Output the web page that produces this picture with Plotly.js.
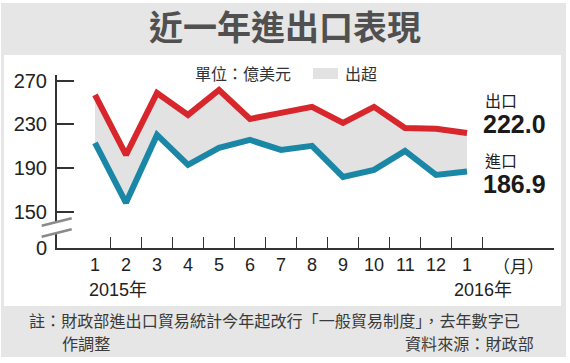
<!DOCTYPE html>
<html>
<head>
<meta charset="utf-8">
<script src="https://cdn.plot.ly/plotly-3.0.1.min.js"></script>
<style>
  html, body { margin: 0; padding: 0; background: #fff; }
  #frame { position: relative; width: 570px; height: 363px; background: #fff; overflow: hidden; }
  #outer { position: absolute; left: 1px; top: 3px; width: 565px; height: 354px; background: #e6e6e6; }
  #panel { position: absolute; left: 4px; top: 55px; width: 557px; height: 251px; background: #fff; }
  #chart { position: absolute; left: 0; top: 0; width: 570px; height: 363px; }
</style>
</head>
<body>
<div id="frame">
  <div id="outer"></div>
  <div id="panel"></div>
  <div id="chart"></div>
</div>
<script>
// ---- data ----
const months = ['1', '2', '3', '4', '5', '6', '7', '8', '9', '10', '11', '12', '1'];
const exportsV = [256.9, 202.0, 258.7, 238.6, 261.5, 235.0, 240.5, 246.0, 231.3, 246.0, 226.7, 226.0, 222.0];
const importsV = [213.0, 158.1, 220.3, 192.9, 208.4, 215.7, 206.6, 210.3, 181.9, 188.3, 205.7, 183.7, 186.9];
const yTickVals = [150, 190, 230, 270];
const yearLabels = ['2015年', '2016年'];
const seriesNames = ['出口', '進口'];

// ---- layout geometry ----
const W = 570, H = 363;
const M = { l: 57, r: 16, t: 75, b: 115 };
const PW = W - M.l - M.r, PH = H - M.t - M.b;
const px = x => (x - M.l) / PW;          // pixel -> paper x
const py = y => (H - M.b - y) / PH;      // pixel -> paper y
const yBottom = 116.75, yTop = 275.2;    // broken axis: bottom stands for 0
const idx = months.map((m, i) => i);

const numFont = 'Liberation Sans, Arial, Noto Sans CJK TC, sans-serif';
const cjkFont = 'Noto Sans CJK TC, Liberation Sans, sans-serif';
const RED = '#d8262d', BLUE = '#1b87a7', FILL = '#e2e2e2';

const traces = [
  { x: idx, y: importsV, type: 'scatter', mode: 'lines', name: seriesNames[1],
    line: { color: BLUE, width: 6, shape: 'linear' }, hoverinfo: 'skip' },
  { x: idx, y: exportsV, type: 'scatter', mode: 'lines', name: seriesNames[0],
    fill: 'tonexty', fillcolor: FILL,
    line: { color: RED, width: 6, shape: 'linear' }, hoverinfo: 'skip' }
];

const boundaries = idx.map(i => i + 0.5);
const annotations = [];
months.forEach((m, i) => annotations.push({
  x: i, y: py(265), xref: 'x', yref: 'paper', text: m, showarrow: false,
  xanchor: 'center', yanchor: 'middle', font: { family: numFont, size: 18, color: '#222' }
}));
annotations.push({ x: 13.66, y: py(265), xref: 'x', yref: 'paper', text: '（月）', showarrow: false,
  xanchor: 'center', yanchor: 'middle', font: { family: cjkFont, size: 17, color: '#222' } });
annotations.push({ x: 0.74, y: py(290), xref: 'x', yref: 'paper', text: yearLabels[0], showarrow: false,
  xanchor: 'center', yanchor: 'middle', font: { family: numFont, size: 18, color: '#222' } });
annotations.push({ x: 12.5, y: py(290), xref: 'x', yref: 'paper', text: yearLabels[1], showarrow: false,
  xanchor: 'center', yanchor: 'middle', font: { family: numFont, size: 18, color: '#222' } });

const last = months.length - 1;
// end labels
annotations.push({ x: last, y: exportsV[last], xref: 'x', yref: 'y', xshift: 16, yshift: 33,
  text: seriesNames[0], showarrow: false, xanchor: 'left', yanchor: 'middle',
  font: { family: cjkFont, size: 16, color: '#222' } });
annotations.push({ x: last, y: exportsV[last], xref: 'x', yref: 'y', xshift: 14, yshift: 9,
  text: '<b>' + exportsV[last].toFixed(1) + '</b>', showarrow: false, xanchor: 'left', yanchor: 'middle',
  font: { family: numFont, size: 25, color: '#1a1a1a' } });
annotations.push({ x: last, y: importsV[last], xref: 'x', yref: 'y', xshift: 16, yshift: 11,
  text: seriesNames[1], showarrow: false, xanchor: 'left', yanchor: 'middle',
  font: { family: cjkFont, size: 16, color: '#222' } });
annotations.push({ x: last, y: importsV[last], xref: 'x', yref: 'y', xshift: 14, yshift: -13,
  text: '<b>' + importsV[last].toFixed(1) + '</b>', showarrow: false, xanchor: 'left', yanchor: 'middle',
  font: { family: numFont, size: 25, color: '#1a1a1a' } });

// legend
annotations.push({ x: px(293), y: py(73), xref: 'paper', yref: 'paper', text: '單位：億美元', showarrow: false,
  xanchor: 'right', yanchor: 'middle', font: { family: cjkFont, size: 16, color: '#333' } });
annotations.push({ x: px(343), y: py(73), xref: 'paper', yref: 'paper', text: '出超', showarrow: false,
  xanchor: 'left', yanchor: 'middle', font: { family: cjkFont, size: 16, color: '#333' } });

// notes
const noteFont = { family: cjkFont, size: 16.1, color: '#3a3a3a' };
annotations.push({ x: px(27), y: py(320.3), xref: 'paper', yref: 'paper',
  text: '註：財政部進出口貿易統計今年起改行「一般貿易制度」，去年數字已', showarrow: false,
  xanchor: 'left', yanchor: 'middle', font: noteFont });
annotations.push({ x: px(60), y: py(342.5), xref: 'paper', yref: 'paper', text: '作調整', showarrow: false,
  xanchor: 'left', yanchor: 'middle', font: noteFont });
annotations.push({ x: px(536), y: py(342.5), xref: 'paper', yref: 'paper', text: '資料來源：財政部', showarrow: false,
  xanchor: 'right', yanchor: 'middle', font: noteFont });

// decoration shapes: legend swatch and axis-break marks
const p = (x, y) => px(x) + ',' + py(y);
const shapes = [
  { type: 'rect', xref: 'paper', yref: 'paper', x0: px(313), x1: px(338), y0: py(79), y1: py(68),
    fillcolor: FILL, line: { width: 0 }, layer: 'below' },
  { type: 'path', xref: 'paper', yref: 'paper', layer: 'above',
    path: 'M' + p(50, 223.5) + ' L' + p(64, 220.0) + ' L' + p(64, 231.0) + ' L' + p(50, 234.5) + ' Z',
    fillcolor: '#fff', line: { width: 0 } },
  { type: 'line', xref: 'paper', yref: 'paper', layer: 'above',
    x0: px(41.7), y0: py(225.7), x1: px(71.7), y1: py(218.3), line: { color: '#8a8a8a', width: 2.5 } },
  { type: 'line', xref: 'paper', yref: 'paper', layer: 'above',
    x0: px(41.7), y0: py(236.7), x1: px(71.7), y1: py(229.3), line: { color: '#8a8a8a', width: 2.5 } }
];

const layout = {
  width: W, height: H,
  margin: M,
  paper_bgcolor: 'rgba(0,0,0,0)', plot_bgcolor: 'rgba(0,0,0,0)',
  showlegend: false,
  title: { text: '近一年進出口表現', x: 0.5, xref: 'container', xanchor: 'center',
    y: 1 - 28 / H, yref: 'container', yanchor: 'middle',
    font: { family: cjkFont, size: 34, color: '#505050', weight: 700 } },
  xaxis: {
    range: [-1.226, 14.806], showgrid: false, zeroline: false,
    showline: true, linecolor: '#333', linewidth: 2,
    tickmode: 'array', tickvals: boundaries.slice(0, last + 1), ticks: 'inside', ticklen: 11,
    tickwidth: 1.5, tickcolor: '#333', showticklabels: false, fixedrange: true
  },
  yaxis: {
    range: [yBottom, yTop], showgrid: false, zeroline: false,
    showline: true, linecolor: '#333', linewidth: 2,
    tickmode: 'array', tickvals: [yBottom].concat(yTickVals), ticktext: ['0'].concat(yTickVals.map(String)),
    ticks: 'inside', ticklen: 17, tickwidth: 2, tickcolor: '#333', ticklabelstandoff: 4,
    tickfont: { family: numFont, size: 20, color: '#222' }, fixedrange: true
  },
  annotations: annotations,
  shapes: shapes
};

Plotly.newPlot('chart', traces, layout, { staticPlot: true, displayModeBar: false });
</script>
</body>
</html>
